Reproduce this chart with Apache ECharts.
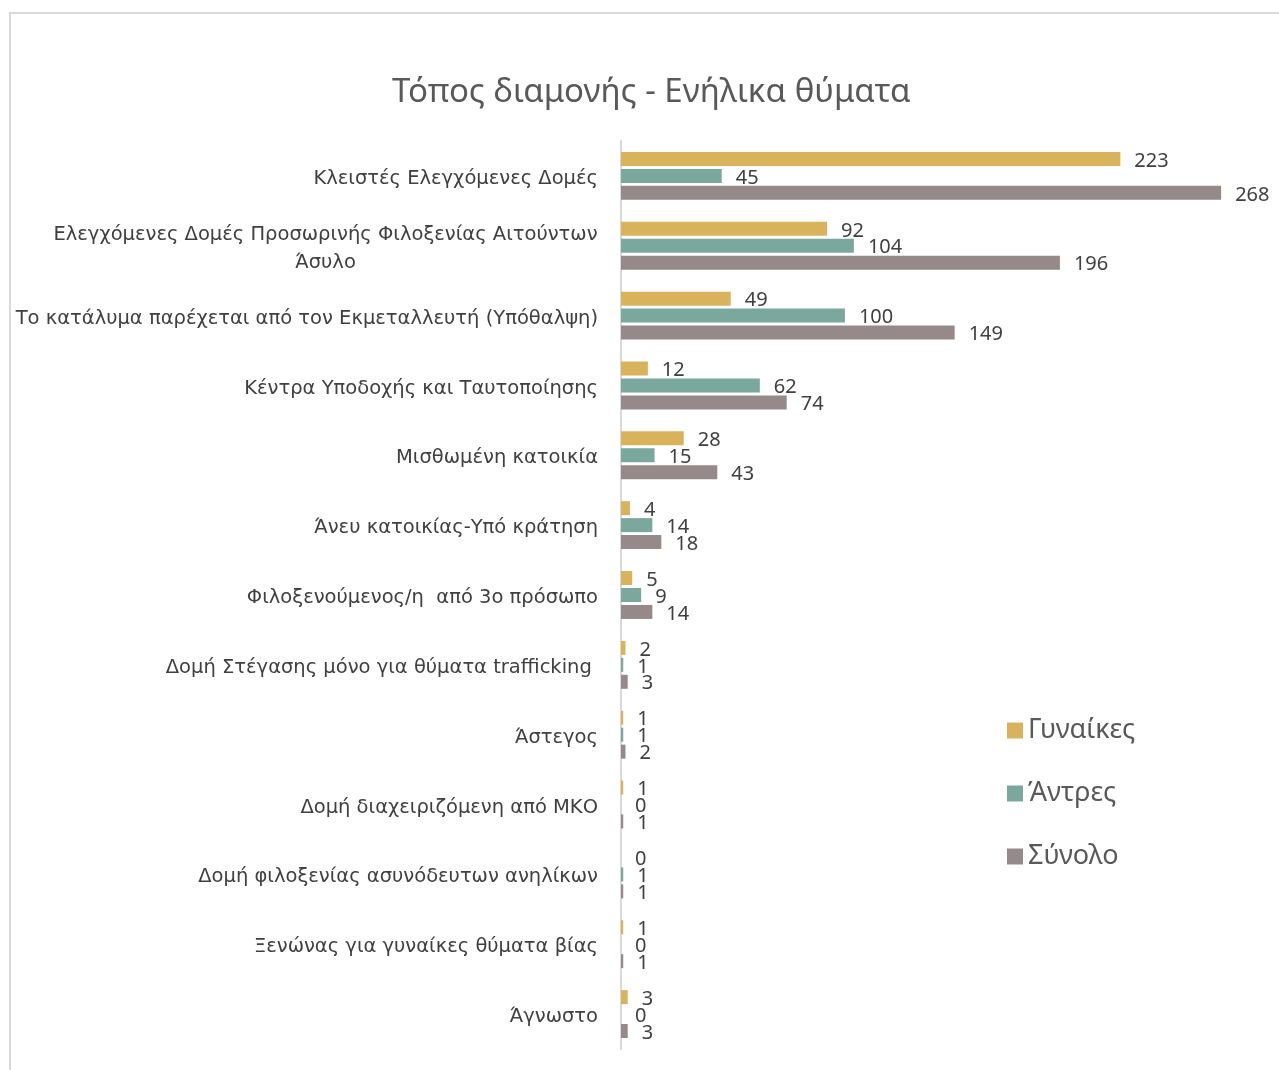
<!DOCTYPE html>
<html>
<head>
<meta charset="utf-8">
<script src="https://cdn.jsdelivr.net/npm/echarts@6/dist/echarts.min.js"></script>
<style>
  html, body { margin: 0; padding: 0; background: #fff; }
  #frame { position: absolute; left: 9px; top: 12px; width: 1300px; height: 1100px; border: 2px solid #d9d9d9; box-sizing: border-box; }
  #main { position: absolute; left: 0; top: 0; width: 1279px; height: 1070px; }
</style>
</head>
<body>
<div id="frame"></div>
<div id="main"></div>
<script>
var FONT = "'Noto Sans', sans-serif"
var CAT_FONT = "'DejaVu Sans', sans-serif"

// categories, top to bottom
var categories = [
  "Κλειστές Ελεγχόμενες Δομές",
  "Ελεγχόμενες Δομές Προσωρινής Φιλοξενίας Αιτούντων\nΆσυλο",
  "Το κατάλυμα παρέχεται από τον Εκμεταλλευτή (Υπόθαλψη)",
  "Κέντρα Υποδοχής και Ταυτοποίησης",
  "Μισθωμένη κατοικία",
  "Άνευ κατοικίας-Υπό κράτηση",
  "Φιλοξενούμενος/η  από 3ο πρόσωπο",
  "Δομή Στέγασης μόνο για θύματα trafficking ",
  "Άστεγος",
  "Δομή διαχειριζόμενη από ΜΚΟ",
  "Δομή φιλοξενίας ασυνόδευτων ανηλίκων",
  "Ξενώνας για γυναίκες θύματα βίας",
  "Άγνωστο"
]
var seriesNames = ["Γυναίκες", "Άντρες", "Σύνολο"]
var women = [223, 92, 49, 12, 28, 4, 5, 2, 1, 1, 0, 1, 3]
var men   = [45, 104, 100, 62, 15, 14, 9, 1, 1, 0, 1, 0, 0]
var total = [268, 196, 149, 74, 43, 18, 14, 3, 2, 1, 1, 1, 3]
var colors = ["#d9b25c", "#7ba89c", "#958a89"]

var labelSize = 19.5

// width of the first line of the wrapped label, so the second line can be centred under it
function textWidth (str, size, family) {
  var ctx = document.createElement("canvas").getContext("2d")
  ctx.font = size + "px " + family
  return Math.ceil(ctx.measureText(str).width)
}

var chart = echarts.init(document.getElementById("main"))

function makeSeries (name, data, color) {
  return {
    name: name,
    type: "bar",
    data: data,
    barWidth: 14,
    barGap: "21%",
    itemStyle: { color: color },
    label: {
      show: true,
      position: "right",
      distance: 14,
      offset: [0, 2],
      color: "#404040",
      fontFamily: FONT,
      fontSize: 20
    }
  }
}

chart.setOption({
  animation: false,
  textStyle: { fontFamily: FONT },
  title: {
    text: "Τόπος διαμονής - Ενήλικα θύματα",
    left: 392,
    top: 76,
    padding: 0,
    textStyle: { fontSize: 33, fontWeight: "normal", color: "#595959", fontFamily: FONT }
  },
  legend: {
    orient: "vertical",
    left: 1002,
    top: 712,
    itemWidth: 16,
    itemHeight: 16,
    itemGap: 36,
    icon: "rect",
    data: seriesNames,
    textStyle: { fontSize: 27, color: "#595959", fontFamily: FONT }
  },
  grid: { left: 621, right: 31, top: 141, bottom: 21, containLabel: false },
  xAxis: {
    type: "value",
    min: 0,
    max: 280,
    show: false
  },
  yAxis: {
    type: "category",
    inverse: true,
    data: categories,
    axisLine: { show: true, lineStyle: { color: "#d9d9d9", width: 2 } },
    axisTick: { show: false },
    axisLabel: {
      margin: 23,
      padding: [6, 0, 0, 0],
      color: "#404040",
      fontSize: labelSize,
      fontFamily: CAT_FONT,
      lineHeight: 28,
      formatter: function (v) {
        if (v.indexOf("\n") < 0) return v
        var parts = v.split("\n")
        return parts.map(function (p) { return "{w|" + p + "}" }).join("\n")
      },
      rich: {
        w: {
          width: textWidth(categories[1].split("\n")[0], labelSize, CAT_FONT),
          align: "center",
          fontSize: labelSize,
          fontFamily: CAT_FONT,
          color: "#404040",
          lineHeight: 28
        }
      }
    }
  },
  series: [
    makeSeries(seriesNames[0], women, colors[0]),
    makeSeries(seriesNames[1], men, colors[1]),
    makeSeries(seriesNames[2], total, colors[2])
  ]
})
</script>
</body>
</html>
